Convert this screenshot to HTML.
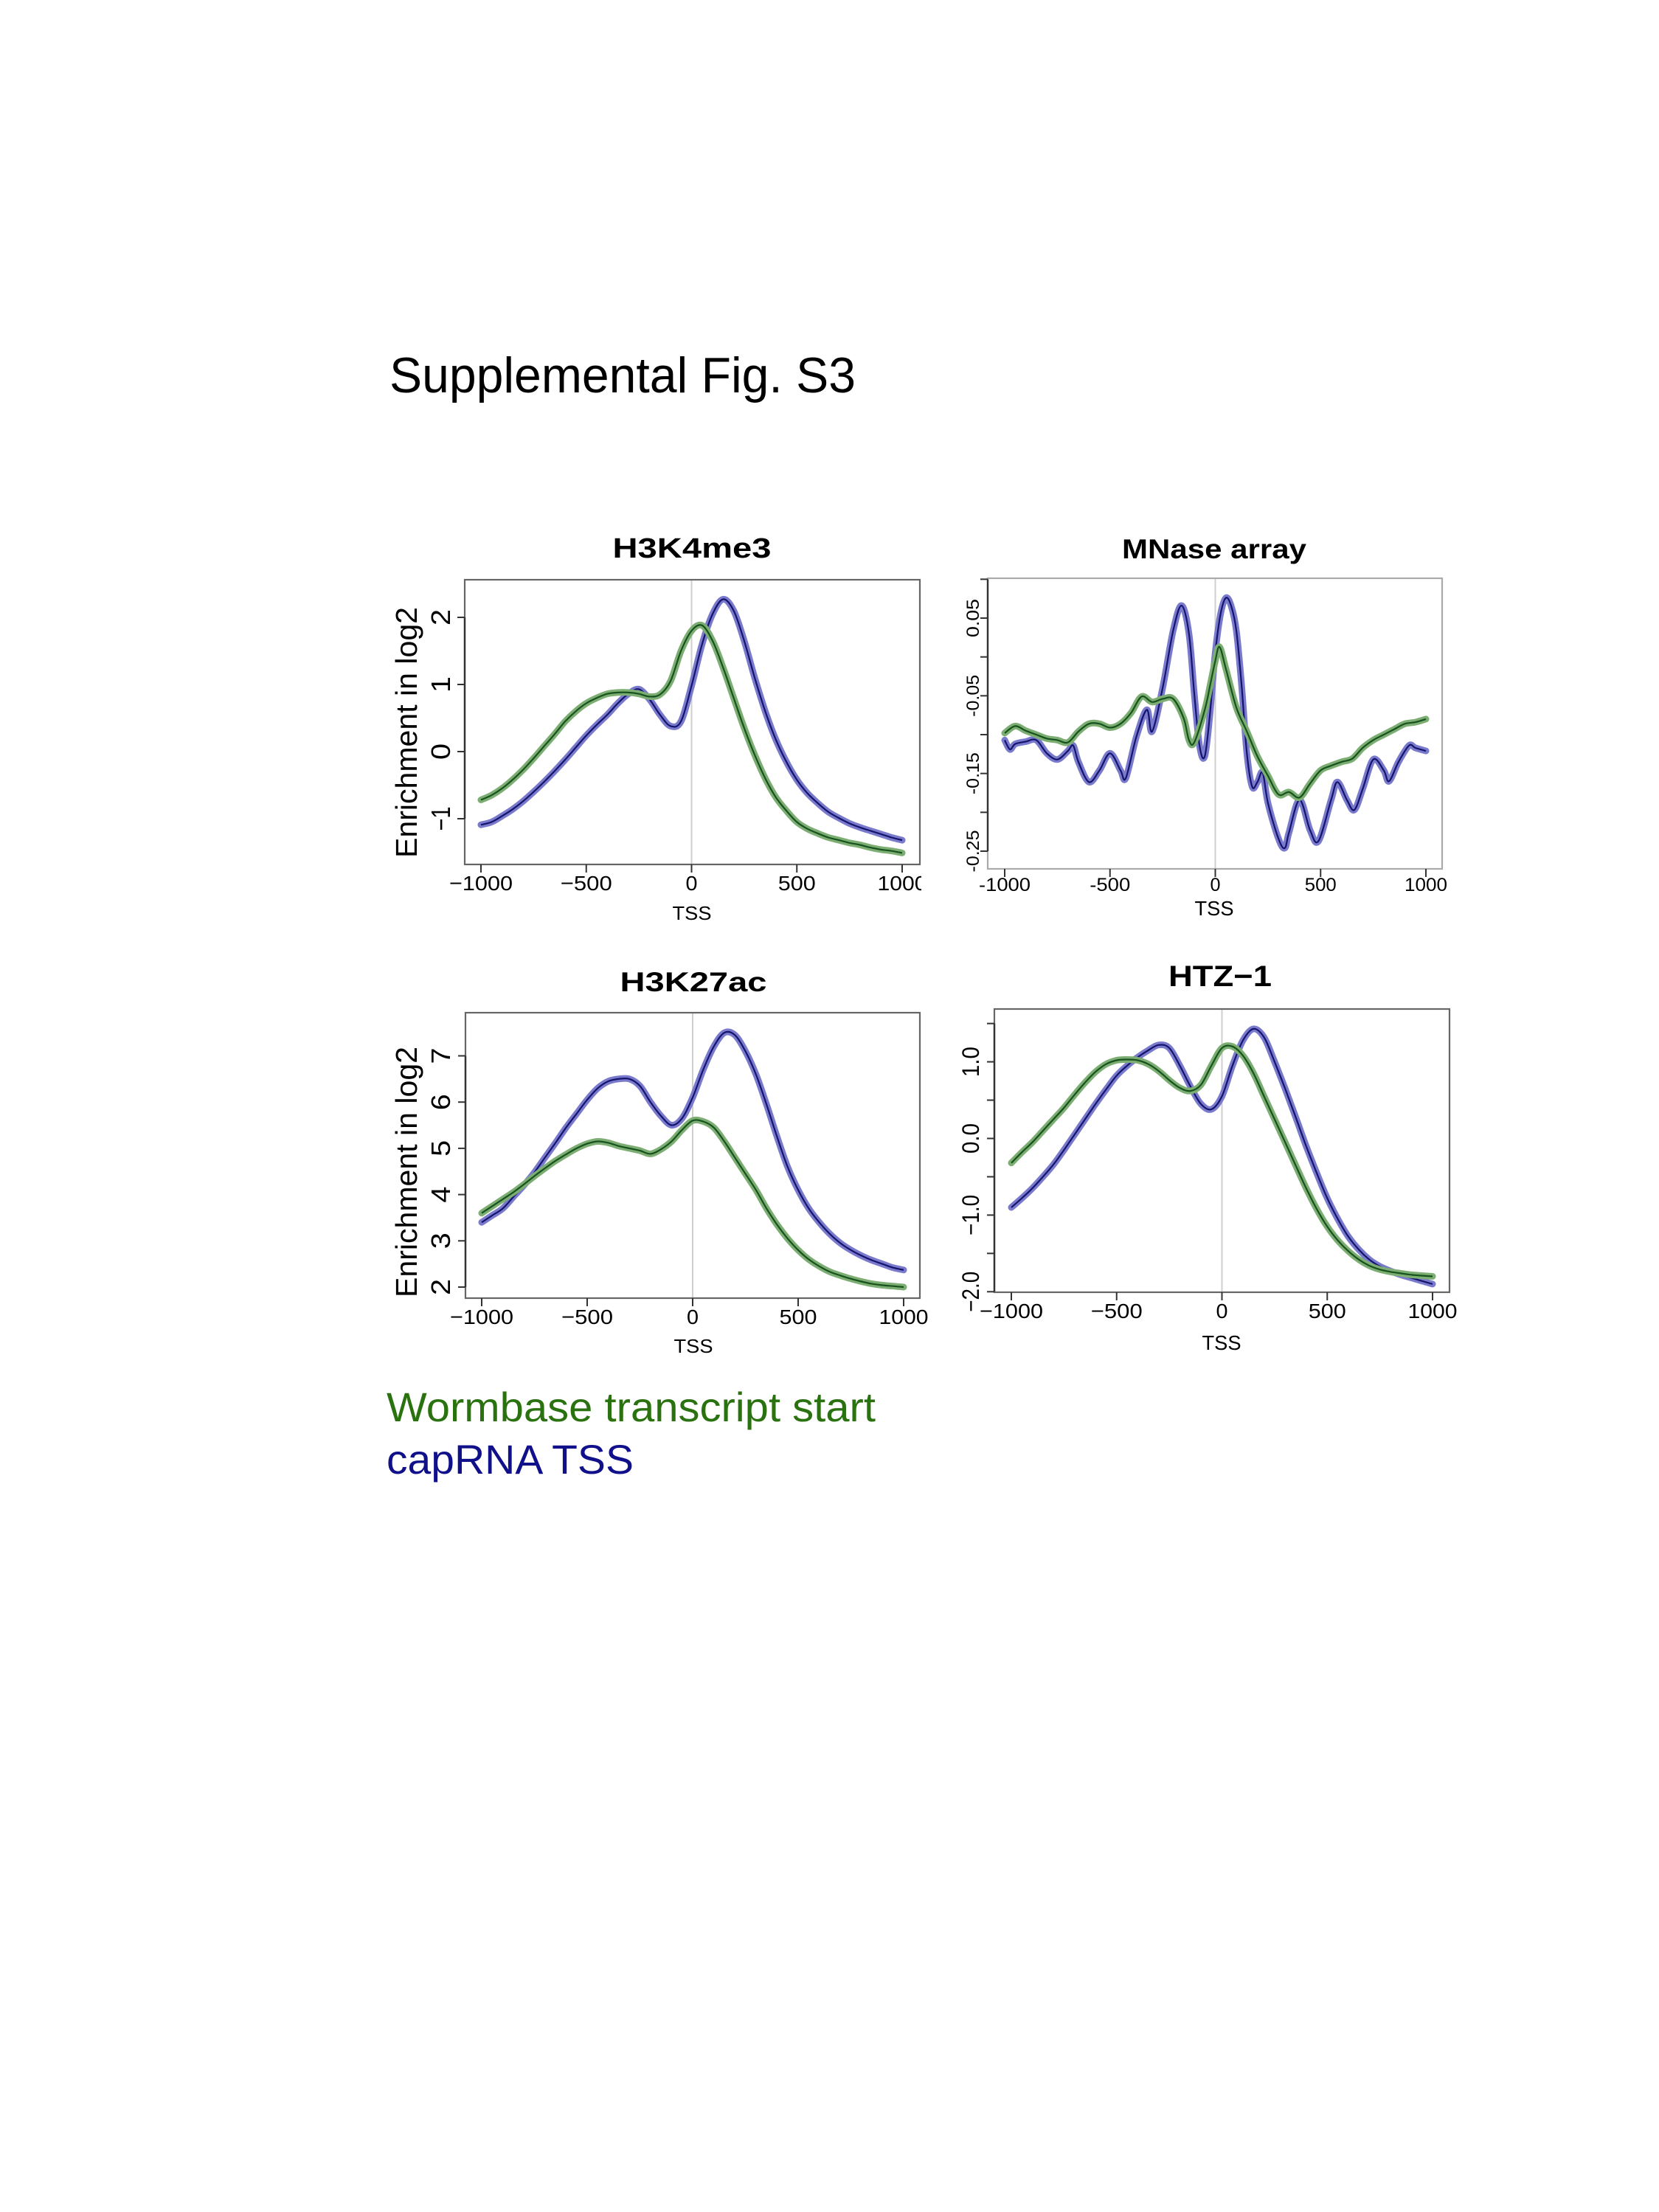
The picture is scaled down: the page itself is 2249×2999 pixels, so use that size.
<!DOCTYPE html>
<html><head><meta charset="utf-8"><style>
html,body{margin:0;padding:0;background:#fff;}
svg{display:block;font-family:"Liberation Sans",Arial,sans-serif;}
</style></head><body>
<svg id="fig" width="2249" height="2999" viewBox="0 0 2249 2999" xmlns="http://www.w3.org/2000/svg">
<defs><clipPath id="clipP1"><rect x="0" y="0" width="1249" height="2999"/></clipPath></defs>
<rect x="0" y="0" width="2249" height="2999" fill="#fff"/>
<text x="528" y="532" font-size="68" textLength="632" lengthAdjust="spacingAndGlyphs">Supplemental Fig. S3</text>
<text x="524" y="1927" font-size="56" fill="#2a720f" textLength="663" lengthAdjust="spacingAndGlyphs">Wormbase transcript start</text>
<text x="524" y="1998" font-size="56" fill="#10108a" textLength="335" lengthAdjust="spacingAndGlyphs">capRNA TSS</text>
<g id="plots"></g>
</svg>
<script>
// ---- data (x = position relative to TSS, y = enrichment) ----
const xs = [-1000,-950,-900,-850,-800,-750,-700,-650,-600,-550,-500,-450,-400,-350,-300,-250,-200,-150,-100,-50,0,50,100,150,200,250,300,350,400,450,500,550,600,650,700,750,800,850,900,950,1000];
const h3k4Blue = [-1.09,-1.05,-0.96,-0.86,-0.74,-0.60,-0.45,-0.29,-0.12,0.06,0.24,0.40,0.55,0.72,0.86,0.93,0.78,0.55,0.38,0.45,0.98,1.6,2.05,2.27,2.1,1.65,1.1,0.6,0.18,-0.15,-0.42,-0.62,-0.77,-0.9,-0.99,-1.07,-1.13,-1.18,-1.23,-1.28,-1.32];
const h3k4Green = [-0.72,-0.65,-0.55,-0.42,-0.27,-0.1,0.08,0.26,0.45,0.60,0.72,0.80,0.86,0.88,0.88,0.86,0.82,0.85,1.05,1.5,1.8,1.88,1.65,1.25,0.8,0.35,-0.05,-0.4,-0.68,-0.88,-1.05,-1.15,-1.22,-1.28,-1.32,-1.36,-1.39,-1.43,-1.46,-1.48,-1.51];
const h3k27Blue = [3.40,3.55,3.70,3.95,4.2,4.48,4.8,5.12,5.45,5.75,6.05,6.3,6.45,6.5,6.5,6.35,6.0,5.7,5.5,5.65,6.1,6.7,7.2,7.5,7.45,7.1,6.6,5.95,5.25,4.6,4.1,3.7,3.4,3.15,2.95,2.8,2.68,2.58,2.5,2.42,2.37];
const h3k27Green = [3.6,3.75,3.9,4.05,4.22,4.4,4.57,4.73,4.87,5.0,5.1,5.15,5.12,5.05,5.0,4.95,4.88,4.98,5.15,5.4,5.6,5.58,5.45,5.15,4.8,4.45,4.1,3.7,3.35,3.05,2.8,2.6,2.45,2.33,2.25,2.18,2.12,2.07,2.04,2.02,2.0];
const htzBlue = [-0.9,-0.78,-0.65,-0.5,-0.34,-0.15,0.05,0.25,0.45,0.64,0.82,0.95,1.06,1.15,1.22,1.18,0.95,0.68,0.45,0.38,0.55,0.95,1.28,1.43,1.32,1.0,0.65,0.28,-0.1,-0.45,-0.78,-1.05,-1.28,-1.45,-1.58,-1.67,-1.73,-1.78,-1.82,-1.86,-1.9];
const htzGreen = [-0.32,-0.18,-0.05,0.1,0.25,0.4,0.57,0.73,0.87,0.97,1.02,1.03,1.02,0.97,0.88,0.76,0.66,0.62,0.7,0.95,1.18,1.2,1.08,0.85,0.55,0.25,-0.05,-0.35,-0.65,-0.92,-1.15,-1.33,-1.47,-1.58,-1.66,-1.71,-1.74,-1.76,-1.78,-1.79,-1.8];
const mnaseBlueX = [-1000,-975,-950,-900,-850,-800,-750,-700,-675,-650,-600,-550,-500,-450,-425,-375,-325,-300,-250,-200,-160,-125,-100,-75,-50,-25,0,25,50,75,100,125,150,175,200,225,250,300,330,350,400,450,490,550,580,625,660,700,750,800,825,870,920,950,1000];
const mnaseBlue = [-0.107,-0.119,-0.112,-0.109,-0.107,-0.124,-0.132,-0.121,-0.114,-0.135,-0.161,-0.146,-0.124,-0.146,-0.156,-0.103,-0.068,-0.096,-0.040,0.034,0.066,0.030,-0.047,-0.114,-0.128,-0.072,0.006,0.055,0.076,0.066,0.034,-0.037,-0.124,-0.167,-0.161,-0.149,-0.188,-0.234,-0.246,-0.226,-0.184,-0.223,-0.237,-0.184,-0.161,-0.184,-0.197,-0.170,-0.132,-0.146,-0.160,-0.135,-0.114,-0.117,-0.121];
const mnaseGreenX = [-1000,-950,-900,-850,-800,-750,-700,-650,-600,-550,-500,-450,-400,-350,-300,-250,-200,-150,-125,-100,-50,-25,0,20,50,100,150,200,250,300,350,400,450,500,550,600,650,700,750,800,850,900,950,1000];
const mnaseGreen = [-0.098,-0.089,-0.095,-0.100,-0.105,-0.107,-0.110,-0.096,-0.086,-0.086,-0.091,-0.086,-0.072,-0.051,-0.058,-0.054,-0.054,-0.079,-0.107,-0.110,-0.068,-0.037,-0.005,0.013,-0.015,-0.065,-0.096,-0.128,-0.153,-0.177,-0.174,-0.181,-0.163,-0.146,-0.140,-0.135,-0.131,-0.117,-0.107,-0.100,-0.093,-0.086,-0.084,-0.080];
const xTickVals = [-1000,-500,0,500,1000];
const xTickLabelsR = ["\u22121000","\u2212500","0","500","1000"];
const xTickLabelsM = ["-1000","-500","0","500","1000"];
const h3k4YTicks = [-1,0,1,2];
const h3k4YLabels = ["\u22121","0","1","2"];
const h3k27YTicks = [2,3,4,5,6,7];
const h3k27YLabels = ["2","3","4","5","6","7"];
const mnaseYTicks = [0.1,0.05,0,-0.05,-0.1,-0.15,-0.2,-0.25];
const mnaseYLabels = ["","0.05","","-0.05","","-0.15","","-0.25"];
const htzYTicks = [1.5,1.0,0.5,0.0,-0.5,-1.0,-1.5,-2.0];
const htzYLabels = ["","1.0","","0.0","","\u22121.0","","\u22122.0"];

const NS = "http://www.w3.org/2000/svg";
const root = document.getElementById('plots');
function mk(tag, attrs, parent){
  const e = document.createElementNS(NS, tag);
  for (const k in attrs) e.setAttribute(k, attrs[k]);
  (parent||root).appendChild(e);
  return e;
}
function linScale(d0,d1,r0,r1){ return v => r0 + (v-d0)*(r1-r0)/(d1-d0); }
function smoothPath(pts){
  let d = "M"+pts[0][0].toFixed(1)+","+pts[0][1].toFixed(1);
  for (let i=0;i<pts.length-1;i++){
    const p0=pts[Math.max(0,i-1)], p1=pts[i], p2=pts[i+1], p3=pts[Math.min(pts.length-1,i+2)];
    const c1x=p1[0]+(p2[0]-p0[0])/6, c1y=p1[1]+(p2[1]-p0[1])/6;
    const c2x=p2[0]-(p3[0]-p1[0])/6, c2y=p2[1]-(p3[1]-p1[1])/6;
    d += " C"+c1x.toFixed(1)+","+c1y.toFixed(1)+" "+c2x.toFixed(1)+","+c2y.toFixed(1)+" "+p2[0].toFixed(1)+","+p2[1].toFixed(1);
  }
  return d;
}
function txt(parent, s, x, y, fs, len, extra){
  const t = mk('text', Object.assign({x:x, y:y, 'font-size':fs, 'text-anchor':'middle'}, extra||{}), parent);
  if (len) { t.setAttribute('textLength', len); t.setAttribute('lengthAdjust','spacingAndGlyphs'); }
  t.textContent = s;
  return t;
}

function drawPanel(cfg){
  const g = mk('g', {});
  
  
  const X = linScale(-1000,1000,cfg.xr[0],cfg.xr[1]);
  const Y = linScale(cfg.yd[0],cfg.yd[1],cfg.yr[0],cfg.yr[1]);
  const [bx0,by0,bx1,by1] = cfg.box;
  const vl = mk('line',{x1:X(0),x2:X(0),y1:by0+1,y2:by1-1,stroke:'#cfcfcf','stroke-width':2},g);
  
  
  cfg.series.forEach(s=>{
    const pts = s.x.map((xv,i)=>[X(xv), Y(s.y[i])]);
    const d = smoothPath(pts);
    const band = mk('path',{d:d,fill:'none',stroke:s.band,'stroke-width':cfg.bandW,'stroke-linejoin':'round','stroke-linecap':'round'},g);
    
    
    const line = mk('path',{d:d,fill:'none',stroke:s.line,'stroke-width':2.2,'stroke-linejoin':'round'},g);
    
    
  });
  const box = mk('rect',{x:bx0,y:by0,width:bx1-bx0,height:by1-by0,fill:'none',stroke:cfg.boxColor,'stroke-width':2.2},g);
  
  
  const ax = mk('line',{x1:bx0,x2:bx0,y1:Y(cfg.yTicks[0]),y2:Y(cfg.yTicks[cfg.yTicks.length-1]),stroke:'#333','stroke-width':2.4},g);
  
  
  xTickVals.forEach((v,i)=>{
    const tk = mk('line',{x1:X(v),x2:X(v),y1:by1,y2:by1+11,stroke:'#333','stroke-width':2},g);
    
    
    const lab = cfg.xLabels[i];
    const t = txt(g, lab, X(v), cfg.xLabY, cfg.xFs, cfg.xLen(lab));
    
    
    if (cfg.clipLast && i===xTickVals.length-1) t.setAttribute('clip-path','url(#clipP1)');
  });
  cfg.yTicks.forEach((v,i)=>{
    const tk = mk('line',{x1:bx0-10,x2:bx0,y1:Y(v),y2:Y(v),stroke:'#333','stroke-width':2},g);
    
    
    const lab = cfg.yLabels[i];
    if (lab){
      const t = txt(g, lab, 0, 0, cfg.yFs, cfg.yLen(lab), {transform:'translate('+cfg.yLabX+','+Y(v)+') rotate(-90)'});
      
      
    }
  });
  const tt = txt(g, cfg.title, cfg.titleX, cfg.titleY, cfg.titleFs, cfg.titleLen, {'font-weight':'bold'});
  
  
  const xt = txt(g, 'TSS', cfg.tssX, cfg.tssY, cfg.tssFs, 53);
  
  
  if (cfg.yTitleY){
    const yt = txt(g, 'Enrichment in log2', 0, 0, 41, 340, {transform:'translate(565,'+cfg.yTitleY+') rotate(-90)'});
    
    
  }
}
const blueBand='#7a7acc', blueLine='#14146e', greenBand='#7cae74', greenLine='#17521c';
const lenR = s => ({"\u22121000":86,"\u2212500":70,"0":16,"500":51,"1000":67})[s];
const lenM = s => ({"-1000":70,"-500":55,"0":14,"500":43,"1000":58})[s];

drawPanel({name:'panel-h3k4me3', title:'H3K4me3', titleX:938, titleY:756, titleFs:38, titleLen:215,
  box:[630,786,1247,1172], xr:[652,1223], yd:[0,2], yr:[1019,837], boxColor:'#666', bandW:9,
  xLabels:xTickLabelsR, xLabY:1207, xFs:28, xLen:lenR, clipLast:true,
  yTicks:h3k4YTicks, yLabels:h3k4YLabels, yLabX:610, yFs:36, yLen:s=>s.length>1?33:22,
  tssX:938, tssY:1247, tssFs:26, yTitleY:993,
  series:[{name:'capRNA-tss',x:xs,y:h3k4Blue,band:blueBand,line:blueLine},{name:'wormbase-start',x:xs,y:h3k4Green,band:greenBand,line:greenLine}]});
drawPanel({name:'panel-h3k27ac', title:'H3K27ac', titleX:940, titleY:1344, titleFs:37, titleLen:199,
  box:[631,1373,1247,1760], xr:[653,1225], yd:[2,7], yr:[1745,1431.5], boxColor:'#666', bandW:9,
  xLabels:xTickLabelsR, xLabY:1795, xFs:28, xLen:lenR,
  yTicks:h3k27YTicks, yLabels:h3k27YLabels, yLabX:610, yFs:36, yLen:s=>22,
  tssX:940, tssY:1834, tssFs:26, yTitleY:1589,
  series:[{name:'capRNA-tss',x:xs,y:h3k27Blue,band:blueBand,line:blueLine},{name:'wormbase-start',x:xs,y:h3k27Green,band:greenBand,line:greenLine}]});
drawPanel({name:'panel-mnase-array', title:'MNase array', titleX:1646, titleY:757, titleFs:37, titleLen:250,
  box:[1339,784,1955,1178], xr:[1362,1933], yd:[0.05,-0.25], yr:[838,1154], boxColor:'#aaa', bandW:9,
  xLabels:xTickLabelsM, xLabY:1208, xFs:25, xLen:lenM,
  yTicks:mnaseYTicks, yLabels:mnaseYLabels, yLabX:1327, yFs:24, yLen:s=>s.length>4?57:52,
  tssX:1646, tssY:1241, tssFs:28,
  series:[{name:'capRNA-tss',x:mnaseBlueX,y:mnaseBlue,band:blueBand,line:blueLine},{name:'wormbase-start',x:mnaseGreenX,y:mnaseGreen,band:greenBand,line:greenLine}]});
drawPanel({name:'panel-htz1', title:'HTZ\u22121', titleX:1654, titleY:1337, titleFs:40, titleLen:140,
  box:[1348,1368,1965,1752], xr:[1371,1942], yd:[0,1], yr:[1543.5,1439.6], boxColor:'#666', bandW:9,
  xLabels:xTickLabelsR, xLabY:1787, xFs:28, xLen:lenR,
  yTicks:htzYTicks, yLabels:htzYLabels, yLabX:1327, yFs:32, yLen:s=>s.length>3?55:41,
  tssX:1656, tssY:1830, tssFs:28,
  series:[{name:'capRNA-tss',x:xs,y:htzBlue,band:blueBand,line:blueLine},{name:'wormbase-start',x:xs,y:htzGreen,band:greenBand,line:greenLine}]});
</script>
</body></html>
